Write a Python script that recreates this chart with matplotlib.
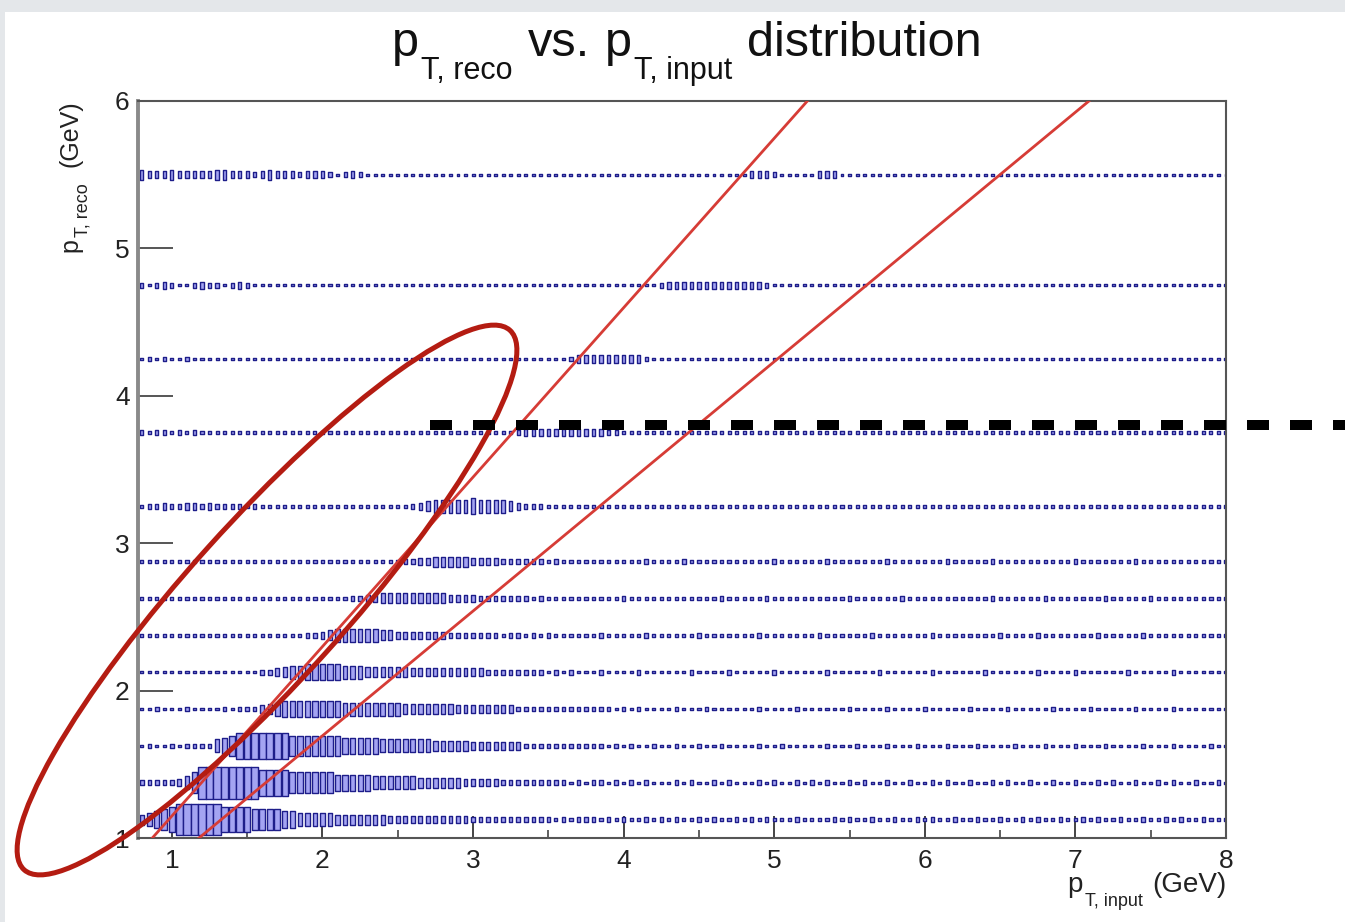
import numpy as np
import matplotlib
matplotlib.use("Agg")
import matplotlib.pyplot as plt
from matplotlib.patches import Rectangle, Ellipse
from matplotlib.collections import PatchCollection
from matplotlib.lines import Line2D
from matplotlib.transforms import IdentityTransform

plt.rcParams['font.family'] = ['Liberation Sans', 'DejaVu Sans']

# binning of the 2d histogram (x: 0.05 GeV bins, y: variable bins)
x_first = 0.8
x_bin = 0.05
y_edges = [1.0, 1.25, 1.5, 1.75, 2.0, 2.25, 2.5, 2.75, 3.0, 3.5, 4.0, 4.5, 5.0, 6.0]

# box height (GeV) for each size code 0..9
box_h = [0.0, 0.016, 0.032, 0.05, 0.068, 0.088, 0.11, 0.14, 0.175, 0.215]

# one string per y bin, one digit per x bin, groups of 10 bins = 0.5 GeV
rows = [
    "4567899999 9888877776 6555554444 4443333333 3333222222 2222212122 2121211212 1211212112 1212111211 1121211211 2112121121 1211211212 1121121211 2112112121 12111",
    "2222235799 9999998888 7777776666 6555555444 4443333322 2222222121 2212121211 1212112121 1121211212 1211212112 1121121211 2112121121 1211211212 1121121211 21121",
    "1211212222 5678888888 7777777666 6655555554 4444333333 3222222222 2212121121 1211211211 1121121111 1211121112 1112111211 1211112111 2111211121 1112111211 11211",
    "1121112111 1212223456 6666666555 5555544444 4433333333 2222222222 2221212111 1211121111 1121111211 1111211112 1111211111 2111121111 1211112111 1121111211 11111",
    "1111111111 1111112234 5566666555 4444443333 3333332222 2222121211 1211112111 1112111121 1111211111 1211111121 1111121111 1121111112 1111211111 1211111211 11111",
    "1111111111 1111111111 1122345555 5544333333 3222222212 2121211111 1211111211 1111211111 1121111111 2111111211 1111121111 1111211112 1111111211 1112111111 11111",
    "1111111111 1111111111 1111111122 3344444444 4333322222 2212111111 1111211111 1111111211 1112111111 1111211111 1211111111 1112111111 2111111121 1111211111 11111",
    "1111111111 1111111111 1111111111 1111122334 4444333322 2222121111 1111111211 1121111111 1111211111 1211111112 1111111211 1112111111 1111211111 1121111111 11111",
    "1223223323 2222121111 1111111111 1111112345 5555655554 3222111111 1111111111 1111111111 1111111111 1111111111 1111111111 1111111111 1111111111 1111111111 11111",
    "2122121211 1111111111 1111111111 1111111111 1111111111 2333333333 3322111111 1111111111 1111111111 1111111111 1111111111 1111111111 1111111111 1111111111 11111",
    "1212112111 1111111111 1111111111 1111111111 1111111111 1111111233 3333333211 1111111111 1111111111 1111111111 1111111111 1111111111 1111111111 1111111111 11111",
    "2123211232 2123211111 1111111111 1111111111 1111111111 1111111111 1111111112 3333333333 3332111111 1111111111 1111111111 1111111111 1111111111 1111111111 11111",
    "4333433333 4433323433 3233321232 1111111111 1111111111 1111111111 1111111111 1111111111 1333211111 3331111111 1111111111 1111111111 1111111111 1111111111 11111",
]

# the two red reference lines
line_y = [1.0, 6.0]
line_hi_x = [0.87, 5.22]
line_lo_x = [1.18, 7.09]

x_ticks = [1, 2, 3, 4, 5, 6, 7, 8]
x_minor = [1.5, 2.5, 3.5, 4.5, 5.5, 6.5, 7.5]
y_ticks = [1, 2, 3, 4, 5, 6]

W, H = 1345, 922
fig = plt.figure(figsize=(W / 100, H / 100), dpi=100, facecolor='#e4e7ea')
fig.add_artist(Rectangle((5 / W, 0), 1, 1 - 12 / H, transform=fig.transFigure,
                         facecolor='white', edgecolor='none', zorder=-10))


def rich_text(x0, y0, pieces, align='left', vertical=False, color='#111111'):
    # ROOT-like text with lowered subscripts; pieces = (text, size, drop px, gap px)
    r = fig.canvas.get_renderer()
    arts, lens = [], []
    for s, fs, drop, gap in pieces:
        t = fig.text(0, 0, s, fontsize=fs, color=color, transform=IdentityTransform(),
                     rotation=90 if vertical else 0, ha='left', va='baseline',
                     rotation_mode='anchor')
        bb = t.get_window_extent(r)
        lens.append((bb.height if vertical else bb.width) + gap)
        arts.append((t, drop))
    total = sum(lens) - pieces[-1][3]
    pos = {'left': 0, 'center': -total / 2, 'right': -total}[align]
    for (t, drop), l in zip(arts, lens):
        if vertical:
            t.set_position((x0 + drop, H - y0 + pos))
        else:
            t.set_position((x0 + pos, H - y0 - drop))
        pos += l


ax = fig.add_axes([138 / W, 1 - 838 / H, (1226 - 138) / W, (838 - 101) / H])
ax.set_xlim(0.775, 8)
ax.set_ylim(1, 6)

boxes = []
for i, row in enumerate(rows):
    codes = row.replace(" ", "")
    y_lo, y_hi = y_edges[i], y_edges[i + 1]
    yc = 0.5 * (y_lo + y_hi)
    bh = y_hi - y_lo
    for k, c in enumerate(codes):
        lvl = int(c)
        if lvl == 0:
            continue
        h = box_h[lvl]
        dz = h / bh
        w = x_bin * min(0.95, 0.38 + 0.7 * dz)
        xc = x_first + k * x_bin
        boxes.append(Rectangle((xc - w / 2, yc - h / 2), w, h))

pc = PatchCollection(boxes, facecolor='#a4a4f2', edgecolor='#1e1e8a', linewidth=1.0, zorder=2)
ax.add_collection(pc)

ax.plot(line_hi_x, line_y, color='#d63c36', lw=2.0, zorder=3)
ax.plot(line_lo_x, line_y, color='#d63c36', lw=2.0, zorder=3)

ax.set_xticks(x_ticks)
ax.set_xticks(x_minor, minor=True)
ax.set_yticks(y_ticks)
ax.set_xticklabels([str(t) for t in x_ticks])
ax.set_yticklabels([str(t) for t in y_ticks])
ax.tick_params(axis='x', which='major', direction='in', length=16, width=1.4,
               color='#444444', labelsize=19, pad=8, labelcolor='#222222')
ax.tick_params(axis='x', which='minor', direction='in', length=6, width=1.2, color='#444444')
ax.tick_params(axis='y', which='major', direction='in', length=25, width=1.4,
               color='#555555', labelsize=19, pad=6, labelcolor='#222222')
ax.tick_params(top=False, right=False)

for side in ['top', 'right', 'bottom']:
    ax.spines[side].set_color('#555555')
    ax.spines[side].set_linewidth(1.5)
ax.spines['left'].set_color('#8a8a8a')
ax.spines['left'].set_linewidth(2.8)

# title and axis titles
rich_text(687, 56, [('p', 35, 0, 2), ('T, reco', 22, 23, 15), ('vs.', 35, 0, 15),
                    ('p', 35, 0, 2), ('T, input', 22, 23, 15), ('distribution', 35, 0, 0)],
          align='center')
rich_text(1226, 892, [('p', 20, 0, 2), ('T, input', 13, 14, 9), ('(GeV)', 20, 0, 0)],
          align='right', color='#222222')
rich_text(77, 100, [('p', 18, 0, 1), ('T, reco', 13, 11, 17), ('(GeV)', 18, 0, 0)],
          align='right', vertical=True, color='#222222')

# hand-drawn annotation: red ellipse and black dashed line
ell = Ellipse((2.67, (H - 600) / 100), 7.26, 1.58, angle=48,
              transform=fig.dpi_scale_trans, fill=False, edgecolor='#b41c12', lw=3.6, zorder=5)
fig.add_artist(ell)
dash = Line2D([430 / W, 1.0], [1 - 425 / H, 1 - 425 / H], transform=fig.transFigure,
              color='black', lw=7.2, dashes=(2.2, 2.1), zorder=6)
fig.add_artist(dash)

fig.savefig('out.png', dpi=100)
